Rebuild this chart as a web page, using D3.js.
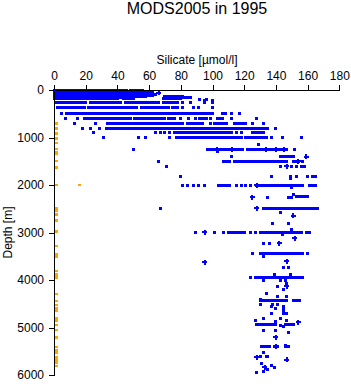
<!DOCTYPE html>
<html>
<head>
<meta charset="utf-8">
<script src="https://cdn.jsdelivr.net/npm/d3@7"></script>
<style>
  html, body { margin: 0; padding: 0; background: #fff; }
  svg { display: block; font-family: "Liberation Sans", Arial, sans-serif; }
</style>
</head>
<body>
<div id="chart"></div>
<script>
// silicate (µmol/l) vs depth (m)
const xTicks = [0, 20, 40, 60, 80, 100, 120, 140, 160, 180];
const yTicks = [0, 1000, 2000, 3000, 4000, 5000, 6000];

// dense runs of samples: [depth, silicate from, silicate to]
const runs = [
  [0, 0, 44], [0, 48, 52], [20, 0, 46], [20, 50, 56], [40, 0, 50], [40, 54, 62],
  [60, 0, 44], [60, 47, 60], [80, 0, 52], [80, 56, 62], [100, 0, 46], [100, 50, 58],
  [120, 0, 40], [120, 44, 62], [140, 0, 48], [140, 52, 58], [140, 70, 81],
  [160, 0, 42], [160, 72, 86], [180, 0, 40], [180, 44, 50], [180, 69, 80],
  [260, 1, 20], [260, 23, 42], [260, 45, 66], [260, 69, 78],
  [365, 2, 19], [365, 22, 52], [365, 55, 72], [365, 75, 78],
  [500, 11, 40], [500, 42, 100], [500, 106, 108],
  [600, 19, 48], [600, 51, 70], [600, 72, 76], [600, 92, 96], [600, 103, 106],
  [700, 34, 81], [700, 84, 92], [700, 101, 109], [700, 114, 121],
  [800, 35, 90], [800, 92, 133],
  [900, 78, 106], [900, 108, 112], [900, 125, 132],
  [1000, 77, 98], [1000, 100, 118], [1000, 121, 134],
  [1250, 99, 108], [1250, 109, 119], [1250, 122, 143],
  [1410, 143, 151],
  [1500, 107, 111], [1500, 114, 147], [1500, 151, 154],
  [2000, 104, 111], [2000, 128, 155], [2000, 161, 165],
  [2250, 153, 160],
  [2490, 132, 166],
  [2990, 110, 115], [2990, 116, 120], [2990, 130, 156], [2990, 159, 161],
  [3450, 130, 157],
  [3940, 127, 157],
  [4440, 130, 142], [4440, 144, 147], [4440, 151, 155],
  [4940, 128, 140], [4940, 146, 151],
  [5410, 131, 136], [5410, 139, 141], [5410, 146, 148]
];

// single samples: [depth, silicate]
const samples = [
  [90, 64], [150, 85], [200, 92], [200, 96], [230, 95], [230, 100],
  [260, 81], [260, 86], [260, 95], [260, 100],
  [365, 81], [365, 88], [365, 91], [365, 100],
  [500, 5], [500, 8], [500, 10], [500, 112], [500, 117],
  [600, 7], [600, 15], [600, 80], [600, 85], [600, 89], [600, 99], [600, 112], [600, 128],
  [700, 13], [700, 26], [700, 94], [700, 99], [700, 125], [700, 132],
  [800, 18], [800, 23], [800, 29], [800, 33], [800, 135], [800, 140],
  [900, 25], [900, 64], [900, 67], [900, 70], [900, 73], [900, 76], [900, 115], [900, 118],
  [1000, 31], [1000, 53], [1000, 58], [1000, 73], [1000, 137], [1000, 144], [1000, 156],
  [1140, 129], [1250, 50], [1250, 97], [1250, 145], [1250, 147], [1250, 152], [1300, 103],
  [1410, 112], [1500, 66], [1500, 157],
  [1600, 71], [1600, 143], [1600, 150], [1600, 153], [1600, 156], [1600, 158],
  [1820, 80], [1820, 137], [1820, 149], [1820, 153], [1820, 160], [1820, 163], [1820, 165], [1870, 149],
  [2000, 81], [2000, 84], [2000, 88], [2000, 91], [2000, 95], [2000, 115], [2000, 118],
  [2000, 121], [2000, 124], [2000, 157], [2050, 150], [2200, 151],
  [2260, 135], [2260, 148], [2260, 150],
  [2490, 67], [2580, 143], [2810, 138], [2810, 148], [2930, 150],
  [2990, 89], [2990, 101], [2990, 107], [2990, 124], [2990, 127],
  [3050, 144], [3230, 132], [3230, 136], [3450, 125], [3450, 160], [3500, 132],
  [3740, 145], [3740, 148], [3890, 139], [3890, 149], [3940, 124],
  [4020, 132], [4020, 143], [4020, 146], [4080, 147], [4130, 141], [4190, 145], [4280, 134],
  [4340, 141], [4340, 147], [4400, 130],
  [4510, 130], [4510, 138], [4510, 141], [4550, 137], [4550, 145], [4590, 140], [4590, 145],
  [4650, 145], [4700, 137], [4700, 145], [4700, 147],
  [4810, 132], [4810, 143], [4860, 127], [4860, 147], [4880, 140],
  [4950, 143], [4970, 145], [5060, 132], [5060, 140], [5100, 148],
  [5370, 146], [5530, 132], [5610, 130], [5610, 134], [5610, 135],
  [5750, 131], [5790, 137], [5840, 139], [5890, 135], [5920, 132], [5940, 128]
];

// samples drawn with a cross marker: [depth, silicate]
const crossSamples = [
  [60, 66], [1250, 103], [1250, 112], [1250, 134], [1250, 140], [1250, 145],
  [1410, 159], [1500, 154], [1600, 147], [2000, 128], [2260, 125], [2490, 128], [2650, 151],
  [2990, 95], [3120, 152], [3230, 142], [3600, 147], [3630, 95], [4130, 147],
  [4890, 154], [5210, 140], [5400, 140], [5630, 128], [5680, 147], [5840, 133]
];

// the orange series, near zero silicate: [depth, silicate]
const lowSamples = [
  [700, 1.5], [810, 1.5], [910, 1.5], [1020, 1.5], [1110, 1.5], [1240, 1.5], [1300, 1.5],
  [1350, 1.5], [1495, 1.5], [1630, 1.5], [2000, 1.5], [2000, 16], [2490, 1.5], [2550, 1.5],
  [2620, 1.5], [2740, 1.5], [2760, 1.5], [2980, 1.5], [3285, 1.5], [3460, 1.5], [3510, 1.5],
  [3810, 1.5], [3880, 1.5], [3945, 1.5], [4295, 1.5], [4440, 1.5], [4525, 1.5], [4595, 1.5],
  [4645, 1.5], [4805, 1.5], [4855, 1.5], [4945, 1.5], [5055, 1.5], [5205, 1.5], [5405, 1.5],
  [5475, 1.5], [5525, 1.5], [5615, 1.5], [5670, 1.5], [5740, 1.5], [5805, 1.5]
];

const W = 351, H = 384;
const BLUE = '#0000ff', ORANGE = '#ffa500';
const x = d3.scaleLinear().domain([0, 180]).range([54, 339.3]);
const y = d3.scaleLinear().domain([0, 6000]).range([90, 375]);

const svg = d3.select('#chart').append('svg').attr('width', W).attr('height', H);

svg.append('text').attr('x', 197).attr('y', 14).attr('text-anchor', 'middle')
  .attr('font-size', 16).text('MODS2005 in 1995');
svg.append('text').attr('x', 197).attr('y', 64).attr('text-anchor', 'middle')
  .attr('font-size', 12).text('Silicate [µmol/l]');
svg.append('text').attr('transform', `translate(12,${(y(0) + y(6000)) / 2}) rotate(-90)`)
  .attr('text-anchor', 'middle').attr('font-size', 12).text('Depth [m]');

const marks = svg.append('g').attr('shape-rendering', 'crispEdges');
marks.selectAll('rect.run').data(runs).join('rect').attr('class', 'run')
  .attr('x', d => x(d[1]) - 1.5).attr('y', d => y(d[0]) - 1.5)
  .attr('width', d => x(d[2]) - x(d[1]) + 3).attr('height', 3).attr('fill', BLUE);
marks.selectAll('rect.smp').data(samples).join('rect').attr('class', 'smp')
  .attr('x', d => x(d[1]) - 1.5).attr('y', d => y(d[0]) - 1.5)
  .attr('width', 3).attr('height', 3).attr('fill', BLUE);
const cross = marks.selectAll('g.cross').data(crossSamples).join('g').attr('class', 'cross')
  .attr('transform', d => `translate(${x(d[1])},${y(d[0])})`).attr('fill', BLUE);
cross.append('rect').attr('x', -2.5).attr('y', -1).attr('width', 5).attr('height', 2);
cross.append('rect').attr('x', -1).attr('y', -2.5).attr('width', 2).attr('height', 5);
marks.selectAll('rect.low').data(lowSamples).join('rect').attr('class', 'low')
  .attr('x', d => x(d[1]) - 1.5).attr('y', d => y(d[0]) - 1.2)
  .attr('width', 3).attr('height', 2.5).attr('fill', ORANGE);

const xAxis = svg.append('g').attr('transform', `translate(0,${y(0)})`)
  .call(d3.axisTop(x).tickValues(xTicks).tickSize(5).tickSizeOuter(0).tickPadding(5));
const yAxis = svg.append('g').attr('transform', `translate(${x(0)},0)`)
  .call(d3.axisLeft(y).tickValues(yTicks).tickFormat(d3.format('d'))
    .tickSize(5).tickSizeOuter(0).tickPadding(5));
[xAxis, yAxis].forEach(a => {
  a.attr('shape-rendering', 'crispEdges');
  a.selectAll('text').attr('font-size', 12).attr('font-family', '"Liberation Sans", Arial, sans-serif').attr('fill', '#000');
  a.selectAll('line, path').attr('stroke', '#000');
});
</script>
</body>
</html>
